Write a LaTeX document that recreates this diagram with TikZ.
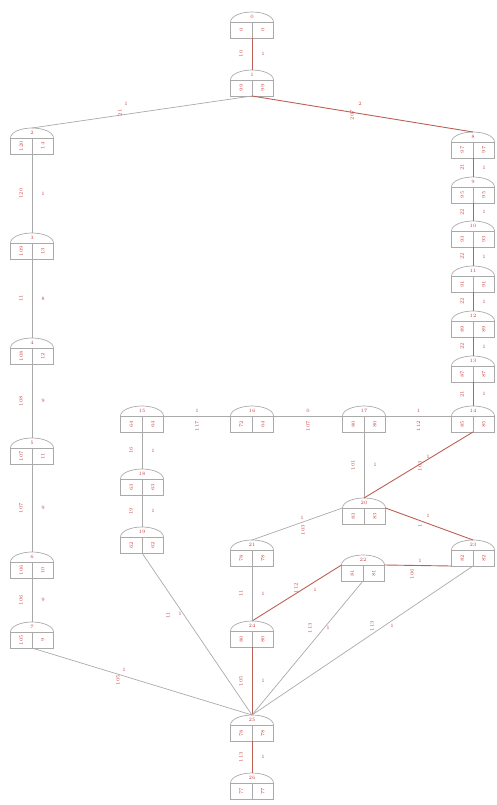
\documentclass[tikz,border=0pt]{standalone}
\usetikzlibrary{calc}
\definecolor{eg}{RGB}{170,170,170}
\definecolor{er}{RGB}{188,96,86}
\definecolor{tr}{RGB}{204,64,64}
\tikzset{
 box/.style={draw=eg, line width=0.7pt, minimum width=43pt, minimum height=16pt, inner sep=0pt, outer sep=0pt},
 gedge/.style={draw=eg, line width=0.7pt},
 redge/.style={draw=er, line width=0.9pt},
 tl/.style={text=tr, font=\fontsize{5}{5}\selectfont, inner sep=0.4pt},
}
% name, x, ytop, dome label, left cell, right cell
\newcommand\gn[6]{%
 \node[box] (#1) at (#2,-#3-18) {};
 \coordinate (#1t) at (#2,-#3);
 \draw[eg, line width=0.7pt] (#1.north west) arc[start angle=180,end angle=0,x radius=21.5pt,y radius=10pt];
 \draw[eg, line width=0.7pt] (#1.north) -- (#1.south);
 \node[tl] at (#2,-#3-5) {#4};
 \node[tl,rotate=90] at (#2-10.75,-#3-18) {#5};
 \node[tl,rotate=90] at (#2+10.75,-#3-18) {#6};
}
% edge with labels left/right: style, from, to, rotated label, short label
\newcommand\edv[5]{%
 \draw[#1] (#2) -- (#3);
 \node[tl,rotate=90] at ($(#2)!.5!(#3)+(-11,0)$) {#4};
 \node[tl] at ($(#2)!.5!(#3)+(11,0)$) {#5};
}
% horizontal edge: rotated label below, short label above
\newcommand\edh[5]{%
 \draw[#1] (#2) -- (#3);
 \node[tl,rotate=90] at ($(#2)!.5!(#3)+(0,-10)$) {#4};
 \node[tl] at ($(#2)!.5!(#3)+(0,5)$) {#5};
}
\begin{document}
\begin{tikzpicture}[x=1pt,y=1pt]
\useasboundingbox (0,0) rectangle (496,-805);
% nodes
\gn{T0}{252}{12}{0}{0}{0}
\gn{T1}{252}{70}{1}{99}{99}
\gn{L1}{32}{128}{2}{120}{14}
\gn{L2}{32}{233}{3}{109}{13}
\gn{L3}{32}{338}{4}{108}{12}
\gn{L4}{32}{438}{5}{107}{11}
\gn{L5}{32}{552}{6}{106}{10}
\gn{L6}{32}{622}{7}{105}{9}
\gn{R1}{473}{132}{8}{97}{97}
\gn{R2}{473}{177}{9}{95}{95}
\gn{R3}{473}{221}{10}{93}{93}
\gn{R4}{473}{266}{11}{91}{91}
\gn{R5}{473}{311}{12}{89}{89}
\gn{R6}{473}{356}{13}{87}{87}
\gn{R7}{473}{406}{14}{85}{85}
\gn{H1}{142}{406}{15}{64}{64}
\gn{H2}{252}{406}{16}{72}{64}
\gn{H3}{364}{406}{17}{80}{80}
\gn{H1a}{142}{469}{18}{63}{63}
\gn{H1b}{142}{527}{19}{62}{62}
\gn{M}{364}{498}{20}{83}{83}
\gn{A}{252}{540}{21}{78}{78}
\gn{B}{363}{555}{22}{81}{81}
\gn{C}{473}{540}{23}{82}{82}
\gn{D}{252}{621}{24}{80}{80}
\gn{E}{252}{715}{25}{78}{78}
\gn{F}{252}{773}{26}{77}{77}
% edges
\edv{redge}{T0.south}{T1t}{10}{1}
\draw[gedge] (T1.south) -- (L1t);
\node[tl,rotate=90] at (120,-113) {21};
\node[tl] at (126,-104) {1};
\draw[redge] (T1.south) -- (R1t);
\node[tl,rotate=90] at (352,-115) {207};
\node[tl] at (360,-104) {2};
\edv{gedge}{L1.south}{L2t}{120}{1}
\edv{gedge}{L2.south}{L3t}{11}{8}
\edv{gedge}{L3.south}{L4t}{108}{9}
\edv{gedge}{L4.south}{L5t}{107}{9}
\edv{gedge}{L5.south}{L6t}{106}{9}
\edv{redge}{R1.south}{R2t}{21}{1}
\edv{redge}{R2.south}{R3t}{22}{1}
\edv{redge}{R3.south}{R4t}{22}{1}
\edv{redge}{R4.south}{R5t}{22}{1}
\edv{redge}{R5.south}{R6t}{22}{1}
\edv{redge}{R6.south}{R7t}{21}{1}
\edh{gedge}{H1.north east}{H2.north west}{117}{1}
\edh{gedge}{H2.north east}{H3.north west}{107}{0}
\edh{gedge}{H3.north east}{R7.north west}{112}{1}
\edv{gedge}{H1.south}{H1at}{16}{1}
\edv{gedge}{H1a.south}{H1bt}{19}{1}
\edv{gedge}{H3.south}{Mt}{101}{1}
\draw[redge] (R7.south) -- (Mt);
\node[tl,rotate=90] at (420,-466) {103};
\node[tl] at (428,-457) {1};
\draw[gedge] (M.north west) -- (At);
\node[tl,rotate=90] at (303,-530) {103};
\node[tl] at (302,-518) {1};
\draw[redge] (M.north east) -- (Ct);
\node[tl,rotate=90] at (420,-526) {1};
\node[tl] at (428,-516) {1};
\draw[redge] (C.south west) -- (B.north east);
\node[tl,rotate=90] at (412,-574) {106};
\node[tl] at (420,-561) {1};
\draw[redge] (B.north west) -- (Dt);
\node[tl,rotate=90] at (296,-588) {112};
\node[tl] at (315,-590) {1};
\edv{gedge}{A.south}{Dt}{11}{1}
\edv{redge}{D.south}{Et}{105}{1}
\edv{redge}{E.south}{Ft}{113}{1}
\draw[gedge] (L6.south) -- (Et);
\node[tl,rotate=90] at (118,-680) {105};
\node[tl] at (124,-670) {1};
\draw[gedge] (H1b.south) -- (Et);
\node[tl,rotate=90] at (168,-615) {11};
\node[tl] at (180,-614) {1};
\draw[gedge] (B.south) -- (Et);
\node[tl,rotate=90] at (310,-628) {113};
\node[tl] at (328,-628) {1};
\draw[gedge] (C.south) -- (Et);
\node[tl,rotate=90] at (372,-626) {113};
\node[tl] at (392,-626) {1};
\end{tikzpicture}
\end{document}
